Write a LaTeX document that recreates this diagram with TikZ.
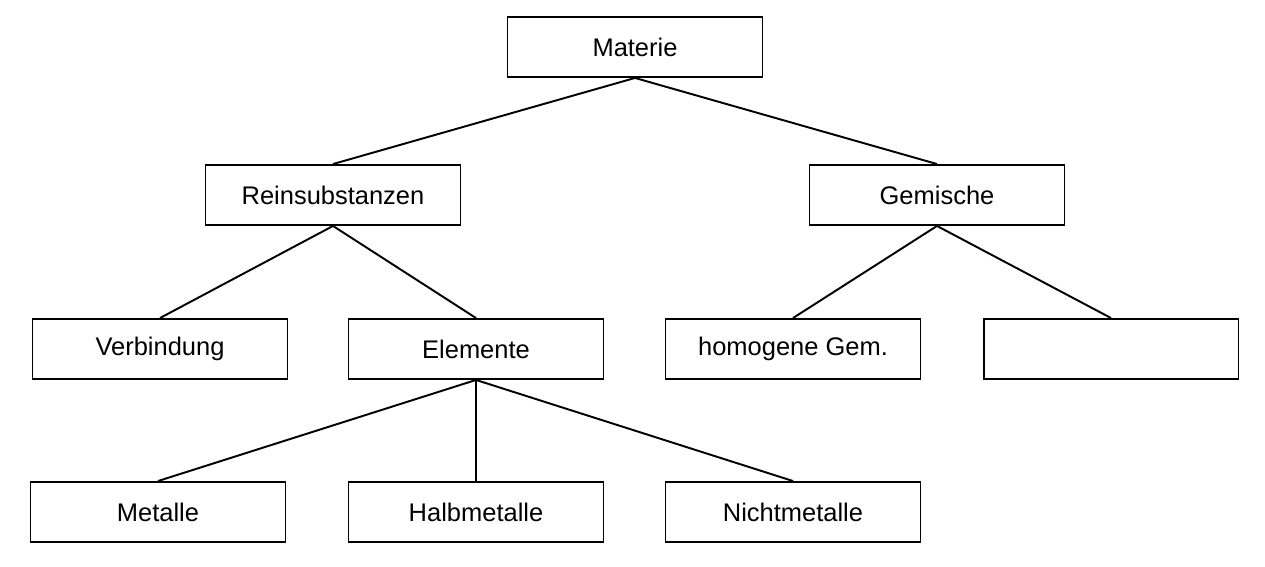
\documentclass[tikz,border=0pt]{standalone}
\usepackage{fontspec}
\setmainfont{Liberation Sans}
\begin{document}
\begin{tikzpicture}[x=0.02cm,y=-0.02cm]
\tikzstyle{every path}=[line width=1.1pt]
\tikzstyle{klasse}=[draw,minimum width=5.1cm,minimum height=1.2cm,inner sep=0pt,font=\fontsize{14.5}{16}\selectfont]
\useasboundingbox (0,0) rectangle (1265,567);
\node [klasse] (materie) at (635,47) {Materie};
\node [klasse] (rein) at (333,195) {Reinsubstanzen};
\node [klasse] (gemische) at (937,195) {Gemische};
\node [klasse] (verbindung) at (160,349) {Verbindung};
\node [klasse] (elemente) at (476,349) {Elemente};
\node [klasse] (homogen) at (793,349) {homogene Gem.};
\node [klasse] (leer) at (1111,349) {};
\node [klasse] (metalle) at (158,512) {Metalle};
\node [klasse] (halb) at (476,512) {Halbmetalle};
\node [klasse] (nicht) at (793,512) {Nichtmetalle};
\draw (materie.south) -- (rein.north);
\draw (materie.south) -- (gemische.north);
\draw (rein.south) -- (verbindung.north);
\draw (rein.south) -- (elemente.north);
\draw (gemische.south) -- (homogen.north);
\draw (gemische.south) -- (leer.north);
\draw (elemente.south) -- (metalle.north);
\draw (elemente.south) -- (halb.north);
\draw (elemente.south) -- (nicht.north);
\end{tikzpicture}
\end{document}
